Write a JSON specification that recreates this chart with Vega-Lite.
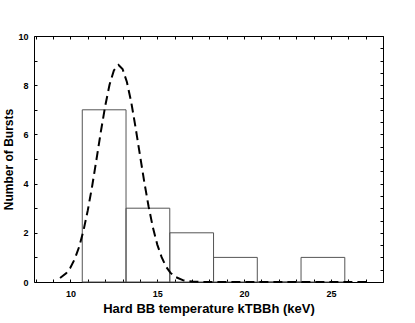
{
  "$schema": "https://vega.github.io/schema/vega-lite/v6.json",
  "width": 349,
  "height": 246,
  "autosize": {"type": "none"},
  "padding": {"left": 34, "top": 36, "right": 32, "bottom": 41},
  "config": {
    "font": "Liberation Sans",
    "view": {"stroke": "#000", "strokeWidth": 1},
    "axis": {
      "domain": false,
      "grid": false,
      "tickColor": "#000",
      "tickSize": -3,
      "tickWidth": 1,
      "labelFont": "Liberation Sans",
      "labelFontWeight": "bold",
      "labelFontSize": 9,
      "labelColor": "#000",
      "titleFont": "Liberation Sans",
      "titleFontWeight": "bold",
      "titleFontSize": 12,
      "titleColor": "#000"
    }
  },
  "resolve": {"axis": {"x": "independent", "y": "independent"}},
  "layer": [
    {
      "data": {
        "values": [
          {"lo": 10.68, "hi": 13.2, "count": 7},
          {"lo": 13.2, "hi": 15.72, "count": 3},
          {"lo": 15.72, "hi": 18.24, "count": 2},
          {"lo": 18.24, "hi": 20.76, "count": 1},
          {"lo": 20.76, "hi": 23.28, "count": 0},
          {"lo": 23.28, "hi": 25.8, "count": 1}
        ]
      },
      "mark": {"type": "rect", "fill": null, "fillOpacity": 0, "stroke": "#555", "strokeWidth": 1},
      "encoding": {
        "x": {
          "field": "lo", "type": "quantitative",
          "scale": {"domain": [7.9, 28], "nice": false, "zero": false},
          "axis": {
            "orient": "bottom",
            "values": [8,9,10,11,12,13,14,15,16,17,18,19,20,21,22,23,24,25,26,27,28],
            "format": "d",
            "labelExpr": "datum.value % 5 === 0 ? datum.label : ''",
            "labelPadding": 10,
            "title": "Hard BB temperature kTBBh (keV)",
            "titleFontSize": 13,
            "titlePadding": 4
          }
        },
        "x2": {"field": "hi"},
        "y": {
          "field": "count", "type": "quantitative",
          "scale": {"domain": [0, 10], "nice": false},
          "axis": {
            "orient": "left",
            "values": [0,0.5,1,1.5,2,2.5,3,3.5,4,4.5,5,5.5,6,6.5,7,7.5,8,8.5,9,9.5,10],
            "format": "d",
            "labelExpr": "datum.value % 2 === 0 ? datum.label : ''",
            "labelPadding": 9,
            "title": "Number of Bursts",
            "titlePadding": 2
          }
        },
        "y2": {"datum": 0}
      }
    },
    {
      "data": {
        "values": [
          {"t": 9.4, "n": 0.16},
          {"t": 9.75, "n": 0.35},
          {"t": 10.0, "n": 0.59},
          {"t": 10.25, "n": 0.94},
          {"t": 10.5, "n": 1.43},
          {"t": 10.75, "n": 2.09},
          {"t": 11.0, "n": 2.92},
          {"t": 11.25, "n": 3.9},
          {"t": 11.5, "n": 4.99},
          {"t": 11.75, "n": 6.11},
          {"t": 12.0, "n": 7.15},
          {"t": 12.25, "n": 8.02},
          {"t": 12.5, "n": 8.6},
          {"t": 12.77, "n": 8.82},
          {"t": 13.0, "n": 8.66},
          {"t": 13.25, "n": 8.13},
          {"t": 13.5, "n": 7.31},
          {"t": 13.75, "n": 6.28},
          {"t": 14.0, "n": 5.17},
          {"t": 14.25, "n": 4.07},
          {"t": 14.5, "n": 3.07},
          {"t": 14.75, "n": 2.21},
          {"t": 15.0, "n": 1.52},
          {"t": 15.25, "n": 1.01},
          {"t": 15.5, "n": 0.63},
          {"t": 15.75, "n": 0.38},
          {"t": 16.0, "n": 0.22},
          {"t": 16.5, "n": 0.065},
          {"t": 17.0, "n": 0.016},
          {"t": 17.5, "n": 0.003},
          {"t": 18.0, "n": 0},
          {"t": 27.1, "n": 0}
        ]
      },
      "mark": {"type": "line", "color": "#000", "strokeWidth": 2, "strokeDash": [9, 5], "interpolate": "linear"},
      "encoding": {
        "x": {
          "field": "t", "type": "quantitative",
          "scale": {"domain": [7.9, 28], "nice": false, "zero": false},
          "axis": {
            "orient": "top",
            "values": [8,9,10,11,12,13,14,15,16,17,18,19,20,21,22,23,24,25,26,27,28],
            "labels": false,
            "title": null
          }
        },
        "y": {
          "field": "n", "type": "quantitative",
          "scale": {"domain": [0, 10], "nice": false},
          "axis": {
            "orient": "right",
            "values": [0,0.5,1,1.5,2,2.5,3,3.5,4,4.5,5,5.5,6,6.5,7,7.5,8,8.5,9,9.5,10],
            "labels": false,
            "title": null
          }
        }
      }
    }
  ]
}
